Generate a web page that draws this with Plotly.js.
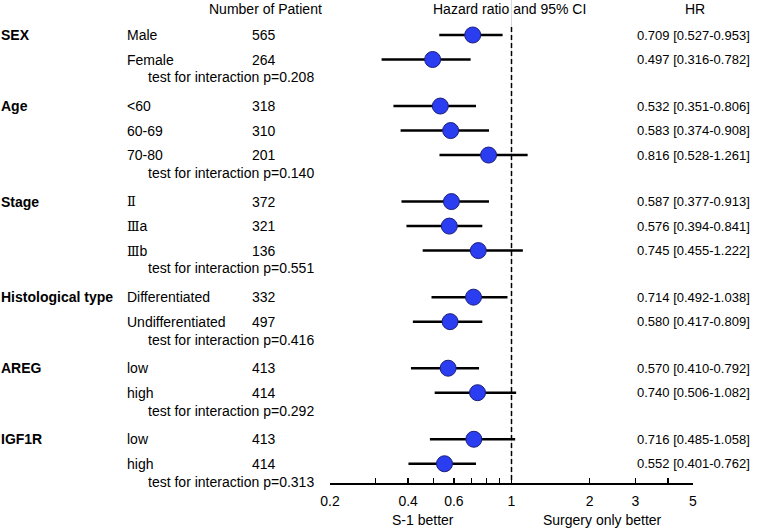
<!DOCTYPE html>
<html>
<head>
<meta charset="utf-8">
<script src="https://cdn.plot.ly/plotly-3.0.1.min.js"></script>
<style>html,body{margin:0;padding:0;background:#fff;}#chart{width:767px;height:531px;}</style>
</head>
<body>
<div id="chart"></div>
<script>
// ---- data ----
const groupNames = ['SEX', 'Age', 'Stage', 'Histological type', 'AREG', 'IGF1R'];
const groupSizes = [2, 3, 3, 2, 2, 2];
const subgroups = ['Male', 'Female', '<60', '60-69', '70-80', 'Ⅱ', 'Ⅲa', 'Ⅲb',
  'Differentiated', 'Undifferentiated', 'low', 'high', 'low', 'high'];
const patients = [565, 264, 318, 310, 201, 372, 321, 136, 332, 497, 413, 414, 413, 414];
const hr = [0.709, 0.497, 0.532, 0.583, 0.816, 0.587, 0.576, 0.745, 0.714, 0.580, 0.570, 0.740, 0.716, 0.552];
const ciLow = [0.527, 0.316, 0.351, 0.374, 0.528, 0.377, 0.394, 0.455, 0.492, 0.417, 0.410, 0.506, 0.485, 0.401];
const ciHigh = [0.953, 0.782, 0.806, 0.908, 1.261, 0.913, 0.841, 1.222, 1.038, 0.809, 0.792, 1.082, 1.058, 0.762];
// right whisker ends as drawn in the figure
const whiskerHigh = [0.924, 0.696, 0.730, 0.819, 1.154, 0.819, 0.772, 1.106, 0.965, 0.772, 0.750, 1.042, 1.033, 0.730];
const pInteraction = ['0.208', '0.140', '0.551', '0.416', '0.292', '0.313'];
const tickVals = [0.2, 0.3, 0.4, 0.5, 0.6, 0.7, 0.8, 0.9, 1, 2, 3, 4, 5];
const tickText = ['0.2', '', '0.4', '', '0.6', '', '', '', '1', '2', '3', '', '5'];

// ---- layout helpers ----
const W = 767, H = 531;
const L = 330, R = 74, T = 0, B = 48;
const PW = W - L - R, PH = H - T - B;
const ROW0 = 35, STEP = 24.5, GAP = 0.9;
const px2paperX = p => (p - L) / PW;
const px2y = p => (p - ROW0) / STEP;

// row positions
const rowY = [];
const groupStart = [];
const groupEnd = [];
let idx = 0;
groupSizes.forEach((n, g) => {
  for (let k = 0; k < n; k++) {
    const y = idx + GAP * g;
    if (k === 0) groupStart.push(y);
    if (k === n - 1) groupEnd.push(y);
    rowY.push(y);
    idx++;
  }
});

const FAM = 'Arial, "Liberation Sans", sans-serif';
const font = {family: FAM, size: 14, color: '#000'};
const hrFont = {family: FAM, size: 13, color: '#000'};

const ann = [];
function txt(text, xpx, y, anchor, f, yref) {
  ann.push({text: text, x: px2paperX(xpx), xref: 'paper', y: y, yref: yref || 'y',
    xanchor: anchor, yanchor: 'middle', showarrow: false, font: f || font});
}
function romanize(s) {
  return s.replace(/([ⅡⅢ])/g, '<span style="font-family:\'DejaVu Serif\';font-size:13px">$1</span>');
}

// headers
txt('Number of Patient', 265, px2y(9), 'center');
txt('Hazard ratio and 95% CI', 509, px2y(9), 'center');
txt('HR', 695, px2y(9), 'center');

groupNames.forEach((g, i) => {
  txt('<b>' + g + '</b>', -1, groupStart[i], 'left');
  txt('test for interaction p=' + pInteraction[i], 146, groupEnd[i] + 0.73, 'left');
});
subgroups.forEach((s, i) => {
  txt(romanize(s), 125, rowY[i], 'left');
  txt(String(patients[i]), 250, rowY[i], 'left');
  txt(hr[i].toFixed(3) + ' [' + ciLow[i].toFixed(3) + '-' + ciHigh[i].toFixed(3) + ']', 752, rowY[i], 'right', hrFont);
});
txt('S-1 better', 423, (PH - (520 - T)) / PH, 'center', font, 'paper');
txt('Surgery only better', 602, (PH - (520 - T)) / PH, 'center', font, 'paper');

// whiskers
const wx = [], wy = [];
hr.forEach((v, i) => {
  wx.push(ciLow[i], whiskerHigh[i], null);
  wy.push(rowY[i], rowY[i], null);
});

const yTop = px2y(T);
const yBot = px2y(T + PH);

const traces = [
  {x: [1, 1], y: [yTop, yBot], mode: 'lines', line: {color: '#d4d7e6', width: 1}, hoverinfo: 'skip'},
  {x: [1, 1], y: [px2y(27), yBot], mode: 'lines', line: {color: '#000', width: 1.5, dash: '5px,3px'}, hoverinfo: 'skip'},
  {x: wx, y: wy, mode: 'lines', line: {color: '#000', width: 2.5}, connectgaps: false, hoverinfo: 'skip'},
  {x: hr, y: rowY, mode: 'markers', marker: {size: 16, color: '#2b3df0', line: {color: '#1b1f7a', width: 1}}, cliponaxis: false}
];

const layout = {
  width: W, height: H,
  margin: {l: L, r: R, t: T, b: B, pad: 0},
  paper_bgcolor: '#fff', plot_bgcolor: 'rgba(0,0,0,0)',
  showlegend: false,
  font: font,
  xaxis: {
    type: 'log', range: [Math.log10(0.2), Math.log10(5)],
    showgrid: false, zeroline: false, showline: true, linecolor: '#000', linewidth: 1.5,
    ticks: 'inside', ticklen: 5, tickwidth: 1.5, tickcolor: '#000',
    tickmode: 'array', tickvals: tickVals, ticktext: tickText, ticklabelstandoff: 5,
    tickfont: {family: FAM, size: 14, color: '#000'}, fixedrange: true
  },
  yaxis: {range: [yBot, yTop], visible: false, showgrid: false, zeroline: false, fixedrange: true},
  annotations: ann
};

Plotly.newPlot('chart', traces, layout, {displayModeBar: false, staticPlot: true});
</script>
</body>
</html>
